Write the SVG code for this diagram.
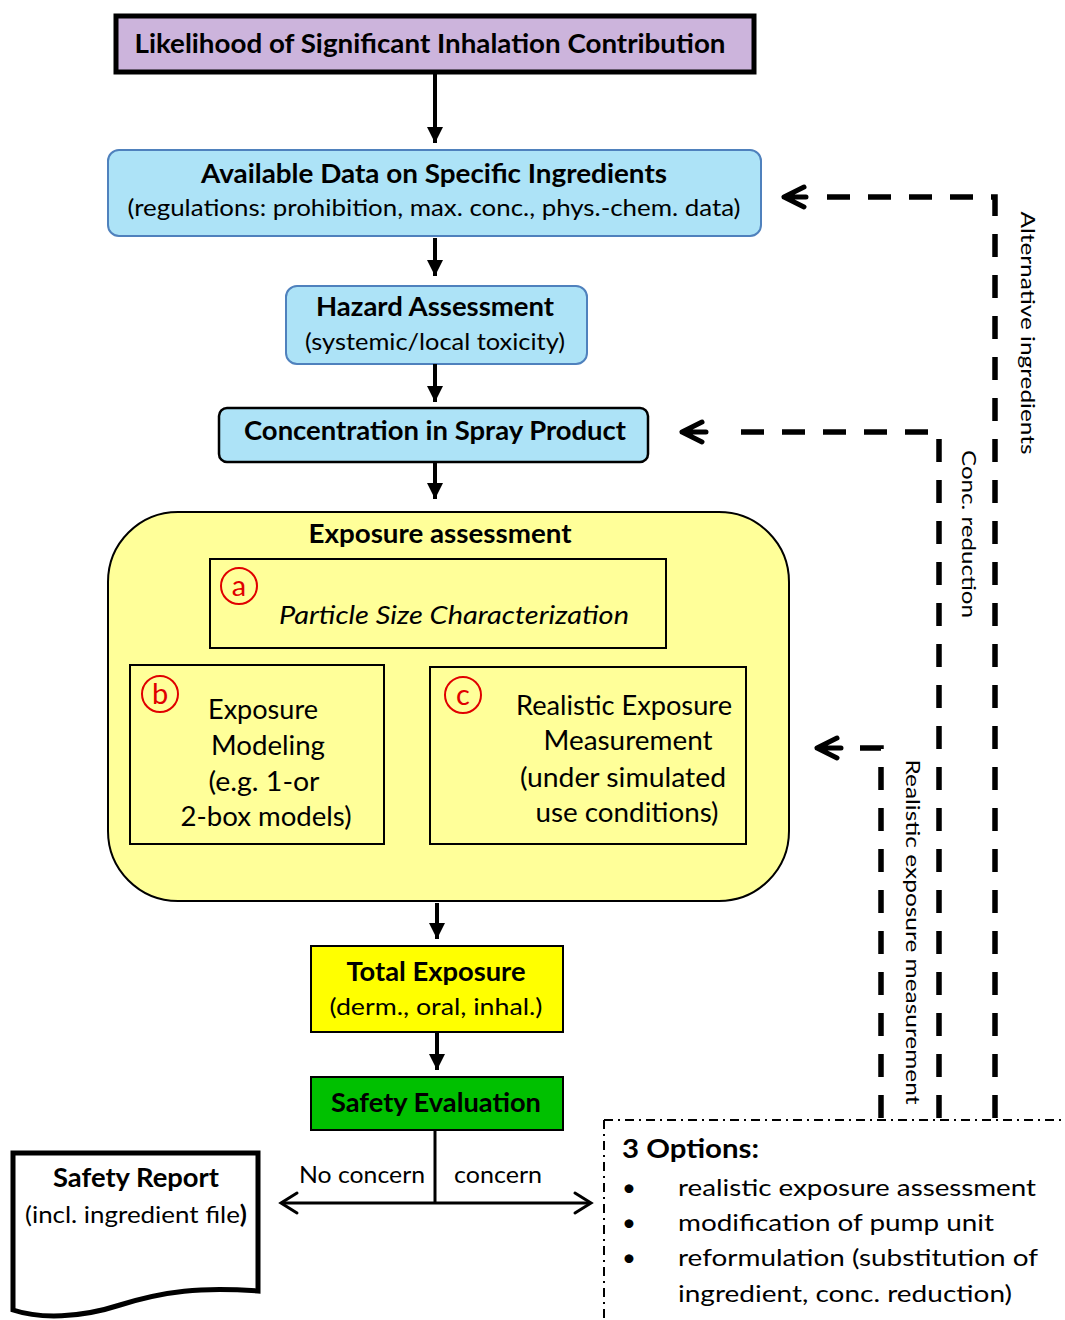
<svg xmlns="http://www.w3.org/2000/svg" width="1065" height="1320" viewBox="0 0 1065 1320">
<style>
text{font-family:Lato,"Open Sans","Liberation Sans",sans-serif;fill:#000}
.b{font-weight:bold}
.t26{font-size:26px}
.t24{font-size:24px}
.t20{font-size:20px}
.mid{text-anchor:middle}
.blue{fill:#ADE3F7;stroke:#4F81BD;stroke-width:2}
.sub{fill:#FFFF99;stroke:#000;stroke-width:2}
.solid{stroke:#000;stroke-width:4;fill:none}
.dash{stroke:#000;stroke-width:5.5;fill:none;stroke-dasharray:23 18}
.chev{stroke:#000;stroke-width:5;fill:none;stroke-linecap:round;stroke-linejoin:round}
.circ{fill:none;stroke:#E00000;stroke-width:2}
.red{fill:#E00000;font-size:29px}
</style>
<defs>
<marker id="tri" markerUnits="userSpaceOnUse" markerWidth="18" markerHeight="18" refX="16" refY="8" orient="auto">
<path d="M0,0 L16,8 L0,16 Z" fill="#000"/>
</marker>
</defs>

<g id="likelihood">
<rect x="116" y="16" width="638" height="56" fill="#CCB4DC" stroke="#000" stroke-width="5"/>
<text class="b t26 mid" x="430" y="53" textLength="591" lengthAdjust="spacingAndGlyphs">Likelihood of Significant Inhalation Contribution</text>
</g>

<g id="available-data">
<rect class="blue" x="108" y="150" width="653" height="86" rx="11"/>
<text class="b t26 mid" x="434" y="183" textLength="466" lengthAdjust="spacingAndGlyphs">Available Data on Specific Ingredients</text>
<text class="t24 mid" x="434" y="216" textLength="613" lengthAdjust="spacingAndGlyphs">(regulations: prohibition, max. conc., phys.-chem. data)</text>
</g>

<g id="hazard">
<rect class="blue" x="286" y="286" width="301" height="78" rx="11"/>
<text class="b t26 mid" x="435" y="316" textLength="238" lengthAdjust="spacingAndGlyphs">Hazard Assessment</text>
<text class="t24 mid" x="435" y="350" textLength="260" lengthAdjust="spacingAndGlyphs">(systemic/local toxicity)</text>
</g>

<g id="concentration">
<rect x="219" y="408" width="429" height="54" rx="8" fill="#ADE3F7" stroke="#000" stroke-width="2.5"/>
<text class="b t26 mid" x="435" y="440" textLength="382" lengthAdjust="spacingAndGlyphs">Concentration in Spray Product</text>
</g>

<g id="exposure-assessment">
<rect x="108" y="512" width="681" height="389" rx="70" fill="#FFFF99" stroke="#000" stroke-width="2"/>
<text class="b t26 mid" x="440" y="543" textLength="263" lengthAdjust="spacingAndGlyphs">Exposure assessment</text>
</g>

<g id="particle-size">
<rect class="sub" x="210" y="559" width="456" height="89"/>
<circle class="circ" cx="239" cy="586" r="18"/>
<text class="red mid" x="239" y="596">a</text>
<text class="t26" x="279" y="624" font-style="italic" textLength="350" lengthAdjust="spacingAndGlyphs">Particle Size Characterization</text>
</g>

<g id="exposure-modeling">
<rect class="sub" x="130" y="665" width="254" height="179"/>
<circle class="circ" cx="160" cy="694" r="18"/>
<text class="red mid" x="160" y="704">b</text>
<text class="t26 mid" x="263" y="719" textLength="110" lengthAdjust="spacingAndGlyphs">Exposure</text>
<text class="t26 mid" x="268" y="755" textLength="114" lengthAdjust="spacingAndGlyphs">Modeling</text>
<text class="t26 mid" x="264" y="791" textLength="111" lengthAdjust="spacingAndGlyphs">(e.g. 1-or</text>
<text class="t26 mid" x="266" y="826" textLength="171" lengthAdjust="spacingAndGlyphs">2-box models)</text>
</g>

<g id="realistic-measurement">
<rect class="sub" x="430" y="667" width="316" height="177"/>
<circle class="circ" cx="463" cy="695" r="18"/>
<text class="red mid" x="463" y="705">c</text>
<text class="t26 mid" x="624" y="715" textLength="216" lengthAdjust="spacingAndGlyphs">Realistic Exposure</text>
<text class="t26 mid" x="628" y="750" textLength="169" lengthAdjust="spacingAndGlyphs">Measurement</text>
<text class="t26 mid" x="623" y="787" textLength="206" lengthAdjust="spacingAndGlyphs">(under simulated</text>
<text class="t26 mid" x="627" y="822" textLength="183" lengthAdjust="spacingAndGlyphs">use conditions)</text>
</g>

<g id="total-exposure">
<rect x="311" y="946" width="252" height="86" fill="#FFFF00" stroke="#000" stroke-width="2"/>
<text class="b t26 mid" x="436" y="981" textLength="179" lengthAdjust="spacingAndGlyphs">Total Exposure</text>
<text class="t24 mid" x="436" y="1015" textLength="213" lengthAdjust="spacingAndGlyphs">(derm., oral, inhal.)</text>
</g>

<g id="safety-evaluation">
<rect x="311" y="1077" width="252" height="53" fill="#00C000" stroke="#000" stroke-width="2"/>
<text class="b t26 mid" x="436" y="1112" textLength="210" lengthAdjust="spacingAndGlyphs">Safety Evaluation</text>
</g>

<g id="safety-report">
<path d="M13,1153 H258 V1291 C200,1287 165,1291 120,1305 C80,1318 40,1319 13,1310 Z" fill="#fff" stroke="#000" stroke-width="5"/>
<text class="b t26 mid" x="136" y="1187" textLength="166" lengthAdjust="spacingAndGlyphs">Safety Report</text>
<text class="t24 mid" x="136" y="1223" textLength="222" lengthAdjust="spacingAndGlyphs">(incl. ingredient file<tspan class="b">)</tspan></text>
</g>

<g id="options">
<path d="M604,1120 H1065 M604,1120 V1320" stroke="#000" stroke-width="2" fill="none" stroke-dasharray="9 5 2 5"/>
<text class="b t26" x="622" y="1158" textLength="137" lengthAdjust="spacingAndGlyphs">3 Options:</text>
<text class="t24" x="622" y="1196">•</text>
<text class="t24" x="678" y="1196" textLength="358" lengthAdjust="spacingAndGlyphs">realistic exposure assessment</text>
<text class="t24" x="622" y="1231">•</text>
<text class="t24" x="678" y="1231" textLength="316" lengthAdjust="spacingAndGlyphs">modification of pump unit</text>
<text class="t24" x="622" y="1266">•</text>
<text class="t24" x="678" y="1266" textLength="360" lengthAdjust="spacingAndGlyphs">reformulation (substitution of</text>
<text class="t24" x="678" y="1302" textLength="334" lengthAdjust="spacingAndGlyphs">ingredient, conc. reduction)</text>
</g>

<g id="connectors">
<line class="solid" x1="435" y1="72" x2="435" y2="143" marker-end="url(#tri)"/>
<line class="solid" x1="435" y1="238" x2="435" y2="276" marker-end="url(#tri)"/>
<line class="solid" x1="435" y1="364" x2="435" y2="402" marker-end="url(#tri)"/>
<line class="solid" x1="435" y1="462" x2="435" y2="499" marker-end="url(#tri)"/>
<line class="solid" x1="437" y1="903" x2="437" y2="939" marker-end="url(#tri)"/>
<line class="solid" x1="437" y1="1032" x2="437" y2="1070" marker-end="url(#tri)"/>
<line x1="435" y1="1130" x2="435" y2="1203" stroke="#000" stroke-width="3"/>
<line x1="282" y1="1203" x2="590" y2="1203" stroke="#000" stroke-width="3"/>
<path d="M297,1193 L281,1203 L297,1213" stroke="#000" stroke-width="3" fill="none" stroke-linecap="round"/>
<path d="M575,1193 L591,1203 L575,1213" stroke="#000" stroke-width="3" fill="none" stroke-linecap="round"/>
<text class="t24 mid" x="362" y="1183" textLength="126" lengthAdjust="spacingAndGlyphs">No concern</text>
<text class="t24 mid" x="498" y="1183" textLength="88" lengthAdjust="spacingAndGlyphs">concern</text>

<path class="dash" d="M995,1118 V197 H826"/>
<path class="chev" d="M804,187 L784,197 L804,207 M784,197 H806"/>
<text class="t20 mid" transform="translate(1021,333) rotate(90)" textLength="243" lengthAdjust="spacingAndGlyphs">Alternative ingredients</text>

<path class="dash" d="M939,1118 V432 H727"/>
<path class="chev" d="M702,422 L682,432 L702,442 M682,432 H706"/>
<text class="t20 mid" transform="translate(962,534) rotate(90)" textLength="168" lengthAdjust="spacingAndGlyphs">Conc. reduction</text>

<path class="dash" d="M881,1118 V748 H860"/>
<path class="chev" d="M837,738 L817,748 L837,758 M817,748 H841"/>
<text class="t20 mid" transform="translate(906,932) rotate(90)" textLength="345" lengthAdjust="spacingAndGlyphs">Realistic exposure measurement</text>
</g>
</svg>
